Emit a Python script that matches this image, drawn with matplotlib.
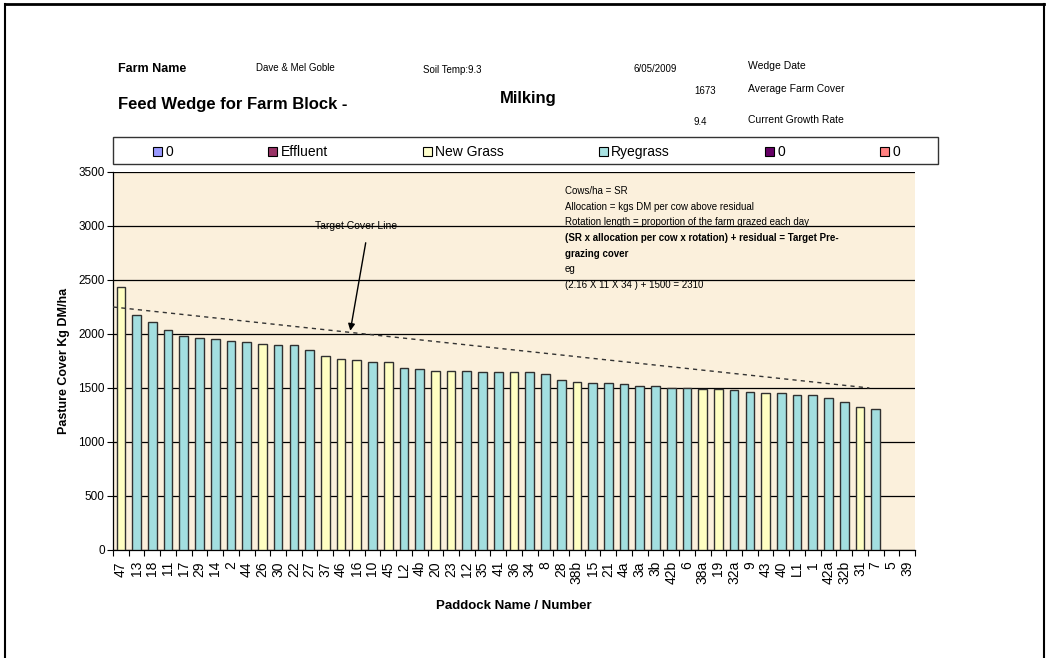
import matplotlib
matplotlib.use("Agg")
import matplotlib.pyplot as plt
from matplotlib.patches import Patch
from matplotlib.lines import Line2D

plt.rcParams['font.family'] = ['Liberation Sans', 'DejaVu Sans']

paddocks = ["47", "13", "18", "11", "17", "29", "14", "2", "44", "26", "30", "22", "27",
            "37", "46", "16", "10", "45", "L2", "4b", "20", "23", "12", "35", "41", "36",
            "34", "8", "28", "38b", "15", "21", "4a", "3a", "3b", "42b", "6", "38a", "19",
            "32a", "9", "43", "40", "L1", "1", "42a", "32b", "31", "7", "5", "39"]
cover = [2435, 2179, 2108, 2037, 1978, 1966, 1954, 1938, 1926, 1910, 1898, 1898, 1855,
         1799, 1771, 1758, 1742, 1742, 1687, 1672, 1660, 1660, 1660, 1645, 1645, 1645,
         1645, 1633, 1574, 1559, 1546, 1546, 1534, 1519, 1519, 1503, 1503, 1491, 1491,
         1478, 1463, 1451, 1451, 1438, 1438, 1407, 1367, 1324, 1309, None, None]
grass = ["New Grass", "Ryegrass", "Ryegrass", "Ryegrass", "Ryegrass", "Ryegrass", "Ryegrass",
         "Ryegrass", "Ryegrass", "New Grass", "Ryegrass", "Ryegrass", "Ryegrass",
         "New Grass", "New Grass", "New Grass", "Ryegrass", "New Grass", "Ryegrass",
         "Ryegrass", "New Grass", "New Grass", "Ryegrass", "Ryegrass", "Ryegrass",
         "New Grass", "Ryegrass", "Ryegrass", "Ryegrass", "New Grass", "Ryegrass",
         "Ryegrass", "Ryegrass", "Ryegrass", "Ryegrass", "Ryegrass", "Ryegrass",
         "New Grass", "New Grass", "Ryegrass", "Ryegrass", "New Grass", "Ryegrass",
         "Ryegrass", "Ryegrass", "Ryegrass", "Ryegrass", "New Grass", "Ryegrass", None, None]
legend_labels = ["0", "Effluent", "New Grass", "Ryegrass", "0", "0"]
legend_colors = ["#9999FF", "#993366", "#FFFFCC", "#A8E2E2", "#660066", "#FF8080"]
series_color = {"New Grass": "#FFFFC2", "Ryegrass": "#A3DFE0"}

target_x = [-0.5, 47.6]
target_y = [2250, 1500]

notes = ["Cows/ha = SR",
         "Allocation = kgs DM per cow above residual",
         "Rotation length = proportion of the farm grazed each day",
         "(SR x allocation per cow x rotation) + residual = Target Pre-",
         "grazing cover",
         "eg",
         "(2.16 X 11 X 34 ) + 1500 = 2310"]
notes_bold = [False, False, False, True, True, False, False]

W, H = 1051, 658
fig = plt.figure(figsize=(W / 100, H / 100), dpi=100)

def fx(px):
    return px / W

def fy(py):
    return 1 - py / H

# outer frame
fig.add_artist(Line2D([fx(5), fx(1044)], [fy(3.5), fy(3.5)], color='black', lw=2))
fig.add_artist(Line2D([fx(5), fx(5)], [fy(3.5), fy(660)], color='black', lw=1.5))
fig.add_artist(Line2D([fx(1044), fx(1044)], [fy(3.5), fy(660)], color='black', lw=1.5))

ax = fig.add_axes([fx(113), fy(550), fx(915) - fx(113), fy(172) - fy(550)])
ax.set_facecolor('#FBF0DC')

xs = list(range(len(paddocks)))
for i, (v, g) in enumerate(zip(cover, grass)):
    if v is None:
        continue
    ax.bar(i, v, width=0.55, color=series_color[g], edgecolor='#303030', linewidth=1.0, zorder=3)

ax.plot(target_x, target_y, linestyle=(0, (3, 3)), color='#333333', lw=1.0, zorder=4)

ax.set_xlim(-0.5, len(paddocks) - 0.5)
ax.set_ylim(0, 3500)
ax.set_yticks(range(0, 3501, 500))
ax.tick_params(axis='y', labelsize=8.5, length=4, direction='out', width=0.8, pad=2)
ax.set_xticks(xs)
ax.set_xticklabels(paddocks, rotation=90, fontsize=10)
ax.tick_params(axis='x', which='major', length=0, pad=8)
ax.set_xticks([i - 0.5 for i in range(len(paddocks) + 1)], minor=True)
ax.tick_params(axis='x', which='minor', length=4, width=0.8, direction='out')
ax.yaxis.grid(True, color='black', lw=0.9, zorder=1)
ax.set_axisbelow(True)
for s in ['top', 'right']:
    ax.spines[s].set_visible(False)
for s in ['left', 'bottom']:
    ax.spines[s].set_linewidth(0.9)

ax.set_ylabel("Pasture Cover Kg DM/ha", fontsize=9, fontweight='bold', labelpad=6)
ax.set_xlabel("Paddock Name / Number", fontsize=9.5, fontweight='bold', labelpad=11)

# target cover annotation
ax.text(14.94, 3000, "Target Cover Line", fontsize=7.5, ha='center', va='center', zorder=5)
ax.annotate("", xy=(14.56, 2005), xytext=(15.6, 2870),
            arrowprops=dict(arrowstyle='-|>', color='black', lw=1.0, mutation_scale=10), zorder=5)

# notes block
ny = 191
for t, b in zip(notes, notes_bold):
    fig.text(fx(565), fy(ny), t, fontsize=7, fontweight='bold' if b else 'normal',
             ha='left', va='center')
    ny += 15.7

# legend
handles = [Patch(facecolor=c, edgecolor='black', linewidth=0.8) for c in legend_colors]
leg = fig.legend(handles, legend_labels, loc='lower left', ncol=6, mode='expand',
                 bbox_to_anchor=(fx(148), fy(164), fx(905) - fx(148), fy(137) - fy(164)),
                 fontsize=10, handlelength=0.65, handleheight=0.65, handletextpad=0.25,
                 frameon=False, borderaxespad=0, borderpad=0.35)
fig.add_artist(plt.Rectangle((fx(113), fy(164)), fx(938) - fx(113), fy(137) - fy(164),
                             fill=False, edgecolor='#333333', lw=1.0))

# header
fig.text(fx(118), fy(69), "Farm Name", fontsize=9, fontweight='bold', va='center')
fig.text(fx(256), fy(68), "Dave & Mel Goble", fontsize=7, va='center')
fig.text(fx(423), fy(70), "Soil Temp:9.3", fontsize=7, va='center')
fig.text(fx(118), fy(104), "Feed Wedge for Farm Block -", fontsize=12, fontweight='bold', va='center')
fig.text(fx(500), fy(99), "Milking", fontsize=12, fontweight='bold', va='center')
fig.text(fx(634), fy(69), "6/05/2009", fontsize=7, va='center')
fig.text(fx(748), fy(66), "Wedge Date", fontsize=7.5, va='center')
fig.text(fx(694), fy(91), "1673", fontsize=7, va='center')
fig.text(fx(748), fy(89), "Average Farm Cover", fontsize=7.5, va='center')
fig.text(fx(694), fy(122), "9.4", fontsize=7, va='center')
fig.text(fx(748), fy(120), "Current Growth Rate", fontsize=7.5, va='center')

fig.savefig("out.png", dpi=100)
